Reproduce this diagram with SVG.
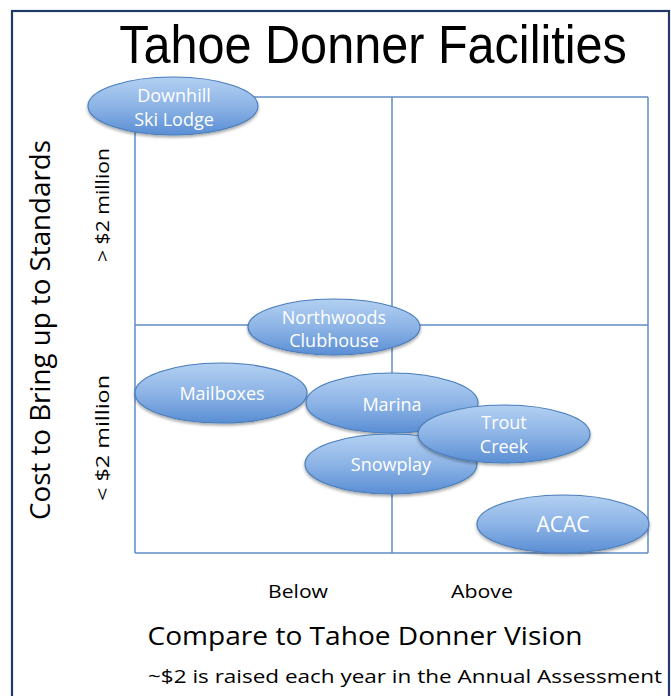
<svg xmlns="http://www.w3.org/2000/svg" width="671" height="696" viewBox="0 0 671 696">
<defs>
<linearGradient id="g" x1="0" y1="0" x2="0" y2="1">
<stop offset="0" stop-color="#b3d0f2"/>
<stop offset="0.5" stop-color="#8db4e6"/>
<stop offset="1" stop-color="#5a8ed4"/>
</linearGradient>
<filter id="sh" x="-20%" y="-30%" width="140%" height="170%">
<feDropShadow dx="0" dy="2" stdDeviation="1.8" flood-color="#000" flood-opacity="0.35"/>
</filter>
<style>
.t{font-family:"Open Sans","Liberation Sans",sans-serif;fill:#000}
.n ellipse{fill:url(#g);stroke:#4a7ebb;stroke-width:1.2;filter:url(#sh)}
.n text{font-family:"Open Sans","Liberation Sans",sans-serif;fill:#fff;font-size:18px;text-anchor:middle}
.grid line{stroke:#5e8cc9;stroke-width:1.5}
</style>
</defs>
<rect x="0" y="0" width="671" height="696" fill="#fff"/>
<rect x="12" y="11" width="657" height="700" fill="none" stroke="#1f3a66" stroke-width="2.2"/>
<text transform="translate(373,63) scale(0.9,1)" x="0" y="0" font-family="'Liberation Sans',Arial,sans-serif" font-size="54" text-anchor="middle">Tahoe Donner Facilities</text>
<g class="grid" id="connectors">
<line x1="135" y1="97" x2="648" y2="97"/>
<line x1="135" y1="553" x2="648" y2="553"/>
<line x1="135" y1="97" x2="135" y2="553"/>
<line x1="648" y1="97" x2="648" y2="553"/>
<line x1="392" y1="97" x2="392" y2="553"/>
<line x1="135" y1="325" x2="648" y2="325"/>
</g>
<text class="t" transform="translate(50,330) rotate(-90)" font-size="28" text-anchor="middle" textLength="380" lengthAdjust="spacingAndGlyphs">Cost to Bring up to Standards</text>
<text class="t" transform="translate(109,205) rotate(-90)" font-size="19" text-anchor="middle" textLength="114" lengthAdjust="spacingAndGlyphs">&gt; $2 million</text>
<text class="t" transform="translate(109,438) rotate(-90)" font-size="19" text-anchor="middle" textLength="126" lengthAdjust="spacingAndGlyphs">&lt; $2 million</text>
<text class="t" x="298" y="598" font-size="19" text-anchor="middle" textLength="60" lengthAdjust="spacingAndGlyphs">Below</text>
<text class="t" x="482" y="598" font-size="19" text-anchor="middle" textLength="62" lengthAdjust="spacingAndGlyphs">Above</text>
<text class="t" x="365" y="645" font-size="26" text-anchor="middle" textLength="435" lengthAdjust="spacingAndGlyphs">Compare to Tahoe Donner Vision</text>
<text class="t" x="405" y="683" font-size="19" text-anchor="middle" textLength="514" lengthAdjust="spacingAndGlyphs">~$2 is raised each year in the Annual Assessment</text>
<g class="n" id="downhill"><ellipse cx="173" cy="106" rx="85" ry="29"/><text x="174" y="102">Downhill</text><text x="174" y="126">Ski Lodge</text></g>
<g class="n" id="northwoods"><ellipse cx="334" cy="327" rx="86" ry="28"/><text x="334" y="324">Northwoods</text><text x="334" y="347">Clubhouse</text></g>
<g class="n" id="mailboxes"><ellipse cx="221" cy="393" rx="86" ry="30"/><text x="222" y="400">Mailboxes</text></g>
<g class="n" id="marina"><ellipse cx="392" cy="403" rx="86" ry="30"/><text x="392" y="411">Marina</text></g>
<g class="n" id="snowplay"><ellipse cx="391" cy="464" rx="86" ry="30"/><text x="391" y="471">Snowplay</text></g>
<g class="n" id="troutcreek"><ellipse cx="504" cy="434" rx="86" ry="29"/><text x="504" y="429">Trout</text><text x="504" y="453">Creek</text></g>
<g class="n" id="acac"><ellipse cx="563" cy="524" rx="86" ry="29"/><text x="563" y="532" style="font-size:21px">ACAC</text></g>
</svg>
